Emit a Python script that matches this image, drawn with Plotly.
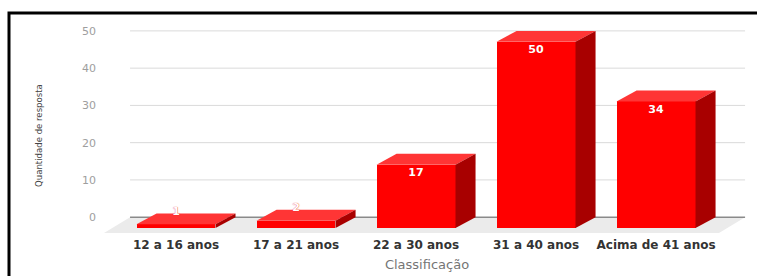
import plotly.graph_objects as go

categories = ["12 a 16 anos", "17 a 21 anos", "22 a 30 anos", "31 a 40 anos", "Acima de 41 anos"]
values = [1, 2, 17, 50, 34]
y_ticks = [0, 10, 20, 30, 40, 50]

# 3D geometry (data units)
W = 0.658      # front face width (category units)
DX = 0.167     # depth shift in x
DY = 2.93      # depth shift in y
X_LO, X_HI = -0.383, 4.742   # grid extent
FLOOR_DX, FLOOR_DY = -0.217, -4.26

FRONT = "#ff0000"
TOP = "#ff3535"
SIDE = "#a80000"

fig = go.Figure()

# front faces
fig.add_trace(go.Bar(
    x=list(range(len(values))), y=values, base=[-DY] * len(values), width=W,
    marker=dict(color=FRONT, line=dict(width=0)), hoverinfo="skip", showlegend=False))

# top faces and side faces
for i, v in enumerate(values):
    l, r = i - W / 2, i + W / 2
    fig.add_trace(go.Scatter(
        x=[l, r, r + DX, l + DX, l], y=[v - DY, v - DY, v, v, v - DY],
        fill="toself", fillcolor=TOP, mode="lines", line=dict(width=0),
        hoverinfo="skip", showlegend=False))
    fig.add_trace(go.Scatter(
        x=[r, r + DX, r + DX, r, r], y=[-DY, 0, v, v - DY, -DY],
        fill="toself", fillcolor=SIDE, mode="lines", line=dict(width=0),
        hoverinfo="skip", showlegend=False))

# value labels
label_y = [v - 5.2 if v > 8 else v + 0.3 for v in values]
fig.add_trace(go.Scatter(
    x=list(range(len(values))), y=label_y, mode="text",
    text=[str(v) for v in values],
    textfont=dict(family="DejaVu Sans", size=11, color="white", weight="bold",
                  shadow="0px 0px 1px #e00000"),
    hoverinfo="skip", showlegend=False, cliponaxis=False))

shapes = []
# floor
shapes.append(dict(
    type="path", xref="x", yref="y", layer="below",
    path=f"M {X_LO} 0 L {X_HI} 0 L {X_HI + FLOOR_DX} {FLOOR_DY} L {X_LO + FLOOR_DX} {FLOOR_DY} Z",
    fillcolor="#ebebeb", line=dict(width=0)))
# gridlines
for t in y_ticks[1:]:
    shapes.append(dict(type="line", xref="x", yref="y", layer="below",
                       x0=X_LO, x1=X_HI, y0=t, y1=t,
                       line=dict(color="#dadada", width=1)))
# zero line
shapes.append(dict(type="line", xref="x", yref="y", layer="below",
                   x0=X_LO, x1=X_HI, y0=0, y1=0,
                   line=dict(color="#555555", width=1)))
# outer frame (left & top edges visible)
L_, T_, B_ = 104, 22, 236
PW, PH = 757 - 7 - L_, B_ - T_
shapes.append(dict(type="rect", xref="paper", yref="paper",
                   x0=(9 - L_) / PW, x1=(770 - L_) / PW,
                   y0=(B_ - 290) / PH, y1=(B_ - 12.8) / PH,
                   line=dict(color="black", width=3), fillcolor="rgba(0,0,0,0)"))

fig.update_layout(
    width=757, height=276,
    margin=dict(l=L_, r=7, t=T_, b=276 - B_),
    paper_bgcolor="white", plot_bgcolor="rgba(0,0,0,0)",
    shapes=shapes,
    bargap=0,
    xaxis=dict(
        range=[-0.6, 4.783], tickmode="array", tickvals=list(range(len(categories))),
        ticktext=categories, showgrid=False, zeroline=False, showline=False, ticks="",
        ticklabelstandoff=2,
        tickfont=dict(family="DejaVu Sans", size=12, color="#333333", weight="bold"),
        title=dict(text="Classificação", standoff=8,
                   font=dict(family="DejaVu Sans", size=13, color="#757575"))),
    yaxis=dict(
        range=[-4.52, 52.39], tickmode="array", tickvals=y_ticks,
        showgrid=False, zeroline=False, showline=False, ticks="",
        ticklabelstandoff=7,
        tickfont=dict(family="DejaVu Sans", size=11, color="#9e9e9e")),
    annotations=[dict(
        text="Quantidade de resposta", xref="paper", yref="paper",
        x=(39 - L_) / PW, y=(B_ - 137) / PH, showarrow=False, textangle=-90,
        xanchor="center", yanchor="middle",
        font=dict(family="DejaVu Sans Condensed, Roboto Condensed, Roboto", size=9.5,
                  color="#444444"))],
)

fig.write_html("out.html", config={"displayModeBar": False},
               post_script="document.body.style.margin='0';")
